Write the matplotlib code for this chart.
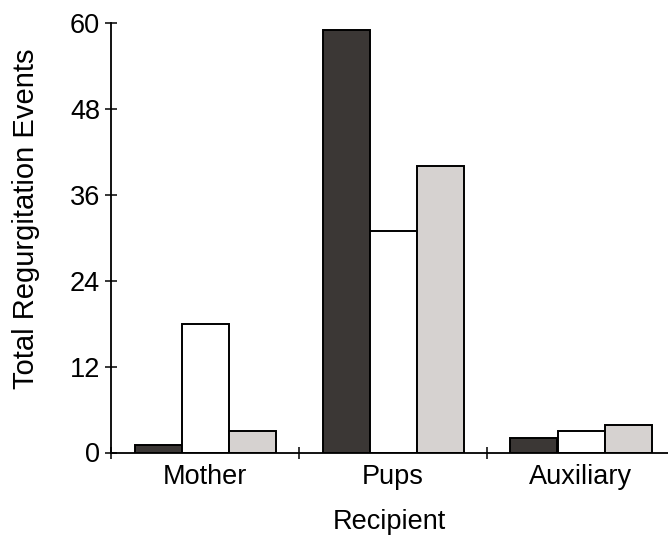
import matplotlib.pyplot as plt
import numpy as np

groups = ['Mother', 'Pups', 'Auxiliary']
dark_vals = [1, 59, 2]
white_vals = [18, 31, 3]
gray_vals = [3, 40, 3.8]
yticks = [0, 12, 24, 36, 48, 60]

plt.rcParams['font.family'] = ['Liberation Sans', 'DejaVu Sans']

fig = plt.figure(figsize=(6.68, 5.35), dpi=100)
ax = fig.add_axes([111/668, 82.5/535, 1 - 111/668, 429.5/535])

x = np.arange(len(groups))
w = 0.25
ax.bar(x - w, dark_vals, w, color='#3b3735', edgecolor='black', linewidth=1.4)
ax.bar(x, white_vals, w, color='white', edgecolor='black', linewidth=1.4)
ax.bar(x + w, gray_vals, w, color='#d6d2d0', edgecolor='black', linewidth=1.4)

ax.set_ylim(0, 60)
ax.set_xlim(-0.5, (668 - 111) / 188 - 0.5)
ax.set_yticks(yticks)
ax.set_xticks([-0.5, 0.5, 1.5])
ax.set_xticklabels([])
ax.set_xticks(x, minor=True)
ax.set_xticklabels(groups, minor=True)

ax.spines['top'].set_visible(False)
ax.spines['right'].set_visible(False)
for s in ['left', 'bottom']:
    ax.spines[s].set_linewidth(1.3)

ax.tick_params(axis='both', which='major', direction='inout', length=8, width=1.1, labelsize=19.5)
ax.tick_params(axis='y', pad=4)
ax.tick_params(axis='x', which='minor', length=0, pad=8, labelsize=19.5)

ax.set_ylabel('Total Regurgitation Events', fontsize=21)
ax.yaxis.set_label_coords(-0.127, 0.545)
ax.set_xlabel('Recipient', fontsize=19.5, labelpad=14)

fig.savefig('out.png', dpi=100)
